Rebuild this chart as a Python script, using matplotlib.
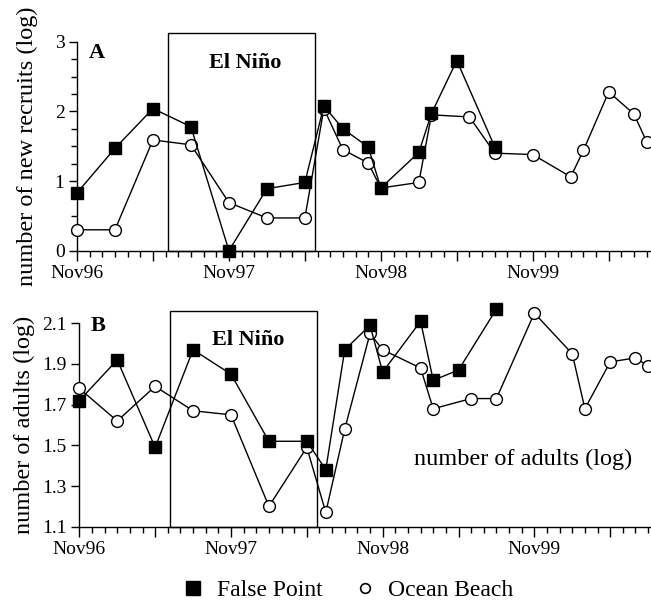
import matplotlib
matplotlib.use("Agg")
import matplotlib.pyplot as plt
from matplotlib.patches import Rectangle
from matplotlib.lines import Line2D
from matplotlib.ticker import FixedLocator, MultipleLocator

plt.rcParams['font.family'] = ['Liberation Serif', 'DejaVu Serif']

# months since Nov96
fp_months = [0, 3, 6, 9, 12, 15, 18, 19.5, 21, 23, 24, 27, 28, 30, 33]
ob_months = [0, 3, 6, 9, 12, 15, 18, 19.5, 21, 23, 24, 27, 28, 31, 33, 36, 39, 40, 42, 44, 45]

# panel A: new recruits (log)
fp_recruits = [0.83, 1.47, 2.04, 1.78, 0.0, 0.89, 0.98, 2.08, 1.75, 1.49, 0.90, 1.41, 1.97, 2.73, 1.49]
ob_recruits = [0.30, 0.30, 1.59, 1.52, 0.69, 0.47, 0.47, 2.04, 1.45, 1.26, 0.90, 0.98, 1.95, 1.92,
               1.40, 1.38, 1.06, 1.44, 2.28, 1.96, 1.56]

# panel B: adults (log)
fp_adults = [1.72, 1.92, 1.49, 1.97, 1.85, 1.52, 1.52, 1.38, 1.97, 2.09, 1.86, 2.11, 1.82, 1.87, 2.17]
ob_adults = [1.78, 1.62, 1.79, 1.67, 1.65, 1.20, 1.49, 1.17, 1.58, 2.05, 1.97, 1.88, 1.68, 1.73,
             1.73, 2.15, 1.95, 1.68, 1.91, 1.93, 1.89]

xtick_pos = [0, 6, 12, 18, 24, 30, 36, 42]
xtick_labels = ['Nov96', '', 'Nov97', '', 'Nov98', '', 'Nov99', '']
el_nino = (7.2, 18.8)

W, H = 651, 610
fig = plt.figure(figsize=(W / 100, H / 100), dpi=100)

def px_axes(left, right, top, bottom):
    return fig.add_axes([left / W, 1 - bottom / H, (right - left) / W, (bottom - top) / H])

axA = px_axes(77, 650, 41.7, 250.7)
axB = px_axes(79.3, 650, 323.3, 526.7)

def style(ax, xmax):
    for s in ['top', 'right']:
        ax.spines[s].set_visible(False)
    for s in ['left', 'bottom']:
        ax.spines[s].set_linewidth(1.0)
    ax.set_xlim(0, xmax)
    ax.xaxis.set_major_locator(FixedLocator(xtick_pos))
    ax.set_xticklabels(xtick_labels)
    ax.xaxis.set_minor_locator(MultipleLocator(1))
    ax.tick_params(axis='x', which='major', length=7, width=1, direction='out', labelsize=14, pad=3)
    ax.tick_params(axis='x', which='minor', length=4.5, width=1, direction='out')
    ax.tick_params(axis='y', which='major', length=6, width=1, direction='out', labelsize=14, pad=3)
    ax.tick_params(axis='y', which='minor', length=4, width=1, direction='out')

def draw(ax, ob_y, fp_y):
    ax.plot(ob_months, ob_y, color='black', lw=1.0, marker='o', ms=8.5,
            mfc='white', mec='black', mew=1.0, zorder=3, clip_on=False)
    ax.plot(fp_months, fp_y, color='black', lw=1.0, marker='s', ms=9,
            mfc='black', mec='black', zorder=4, clip_on=False)

# panel A
style(axA, 45.26)
axA.set_ylim(0, 3)
axA.yaxis.set_major_locator(FixedLocator([0, 1, 2, 3]))
axA.set_yticklabels(['0', '1', '2', '3'])
axA.yaxis.set_minor_locator(MultipleLocator(0.25))
axA.add_patch(Rectangle((el_nino[0], 0), el_nino[1] - el_nino[0], 3.13, fill=False,
                        ec='black', lw=1.0, clip_on=False, zorder=2))
draw(axA, ob_recruits, fp_recruits)
axA.text(13.3, 2.69, 'El Niño', ha='center', va='center', fontsize=16, fontweight='bold')
axA.text(1.54, 2.84, 'A', ha='center', va='center', fontsize=16, fontweight='bold')
axA.set_ylabel('number of new recruits (log)', fontsize=17.5, labelpad=12)

# panel B
style(axB, 45.15)
axB.set_ylim(1.1, 2.1)
yb = [1.1, 1.3, 1.5, 1.7, 1.9, 2.1]
axB.yaxis.set_major_locator(FixedLocator(yb))
axB.set_yticklabels(['1.1', '1.3', '1.5', '1.7', '1.9', '2.1'])
axB.add_patch(Rectangle((el_nino[0], 1.1), el_nino[1] - el_nino[0], 1.06, fill=False,
                        ec='black', lw=1.0, clip_on=False, zorder=2))
draw(axB, ob_adults, fp_adults)
axB.text(13.37, 2.02, 'El Niño', ha='center', va='center', fontsize=16, fontweight='bold')
axB.text(1.5, 2.087, 'B', ha='center', va='center', fontsize=16, fontweight='bold')
axB.text(26.5, 1.43, 'number of adults (log)', ha='left', va='center', fontsize=17.5)
axB.set_ylabel('number of adults (log)', fontsize=17.5, labelpad=5)

handles = [Line2D([], [], ls='none', marker='s', ms=10, mfc='black', mec='black'),
           Line2D([], [], ls='none', marker='o', ms=7, mfc='white', mec='black', mew=1.2)]
fig.legend(handles, ['False Point', 'Ocean Beach'], loc='center', bbox_to_anchor=(0.532, 0.032),
           ncol=2, frameon=False, fontsize=17, columnspacing=1.2, handletextpad=0.4, handlelength=1.2)

fig.savefig('out.png', dpi=100)
